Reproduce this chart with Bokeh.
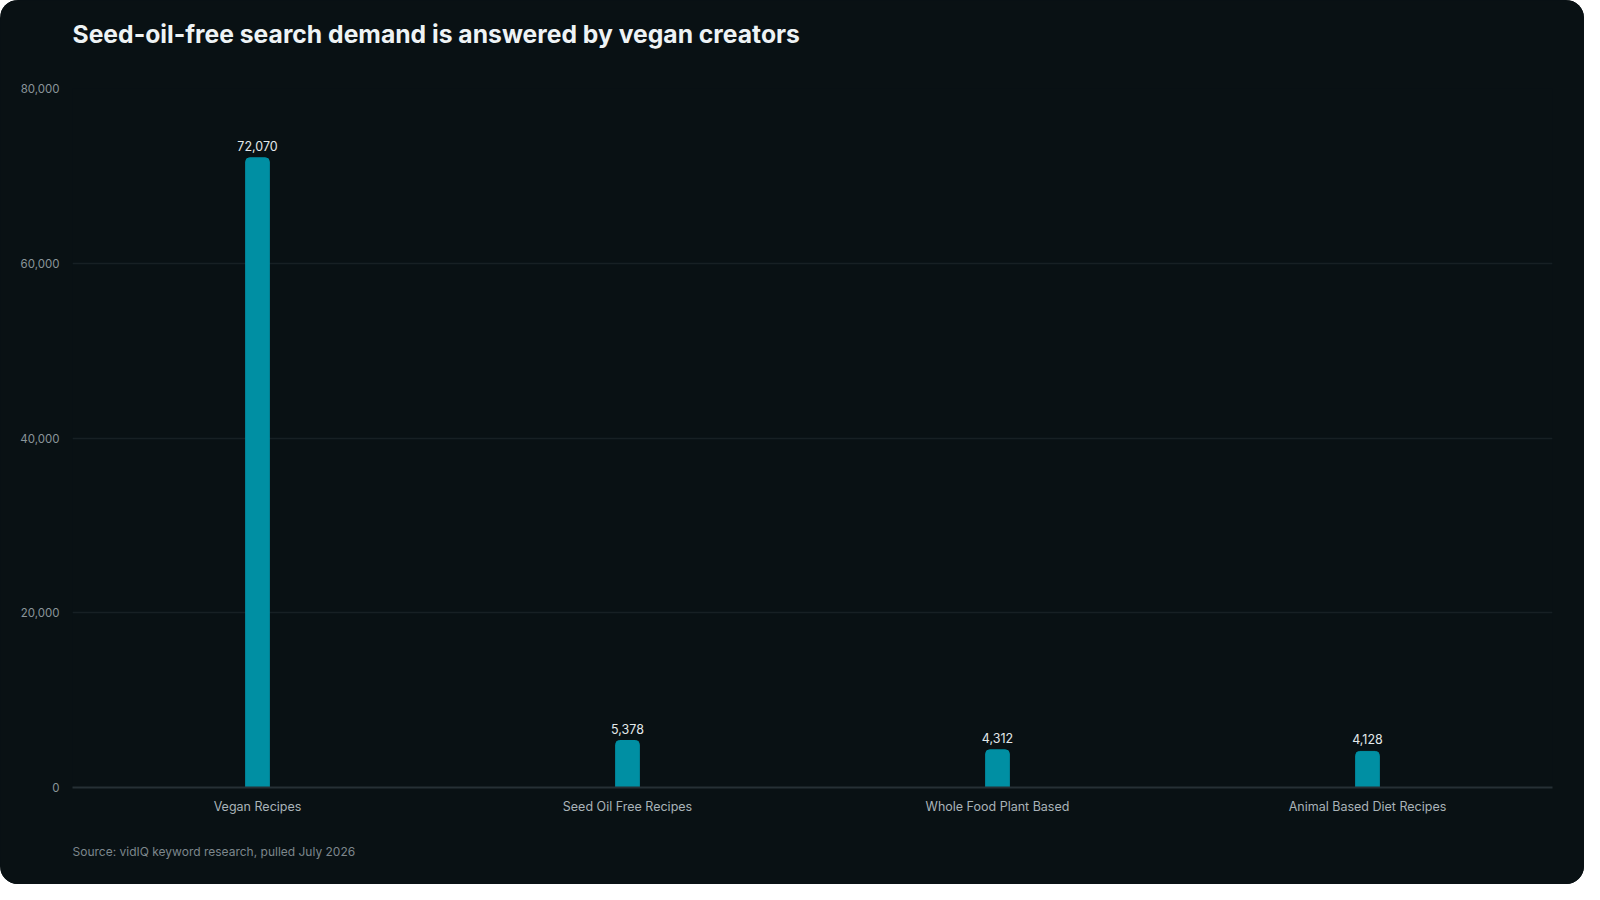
from bokeh.plotting import figure
from bokeh.models import ColumnDataSource, NumeralTickFormatter, Title, FixedTicker
from bokeh.embed import file_html
from bokeh.resources import INLINE

# data
categories = ["Vegan Recipes", "Seed Oil Free Recipes", "Whole Food Plant Based", "Animal Based Diet Recipes"]
searches = [72070, 5378, 4312, 4128]
labels = [f"{v:,}" for v in searches]
y_ticks = [0, 20000, 40000, 60000, 80000]

bg = "#091114"
source = ColumnDataSource(dict(cat=categories, val=searches, lab=labels))

p = figure(x_range=categories, y_range=(0, 80000), width=1584, height=884,
           output_backend="svg", toolbar_location=None,
           min_border_left=72, min_border_right=32, min_border_top=88, min_border_bottom=96)
p.background_fill_color = bg
p.border_fill_color = bg
p.outline_line_color = None
p.styles = {"border-radius": "18px", "overflow": "hidden", "background-color": bg}

p.title.text = "Seed-oil-free search demand is answered by vegan creators"
p.title.text_font = "Inter"
p.title.text_font_size = "24.7px"
p.title.text_font_style = "bold"
p.title.text_color = "#eef3f5"
p.title.align = "left"
p.title.standoff = 0

# empty spacer between the title and the plot area
p.add_layout(Title(text=" ", text_font_size="1px", standoff=37), "above")

p.add_layout(Title(text="Source: vidIQ keyword research, pulled July 2026", align="left",
                   text_font="Inter", text_font_size="12px", text_font_style="normal",
                   text_color="#7d878c", standoff=51), "below")

p.vbar(x="cat", top="val", width=0.064, source=source, color="#008fa3",
       border_radius=(4, 4, 0, 0))
p.text(x="cat", y="val", text="lab", source=source, text_align="center",
       text_baseline="bottom", y_offset=-7, text_color="#e3e9eb",
       text_font_size="12.5px", text_font={"value": "Inter"})

p.xgrid.grid_line_color = None
p.ygrid.grid_line_color = "#172024"
p.ygrid.grid_line_width = 1.5

p.yaxis.ticker = FixedTicker(ticks=y_ticks)
p.yaxis.formatter = NumeralTickFormatter(format="0,0")
p.yaxis.axis_line_color = None
p.yaxis.major_tick_line_color = None
p.yaxis.minor_tick_line_color = None
p.yaxis.major_tick_out = 0
p.yaxis.major_label_standoff = 13
p.yaxis.major_label_text_color = "#8a959a"
p.yaxis.major_label_text_font = "Inter"
p.yaxis.major_label_text_font_size = "11.5px"

p.xaxis.axis_line_color = "#263035"
p.xaxis.axis_line_width = 2
p.xaxis.major_tick_line_color = None
p.xaxis.minor_tick_line_color = None
p.xaxis.major_label_standoff = 5
p.xaxis.major_label_text_color = "#a9b3b8"
p.xaxis.major_label_text_font = "Inter"
p.xaxis.major_label_text_font_size = "12.5px"

open("out.html", "w").write(file_html(p, INLINE))
